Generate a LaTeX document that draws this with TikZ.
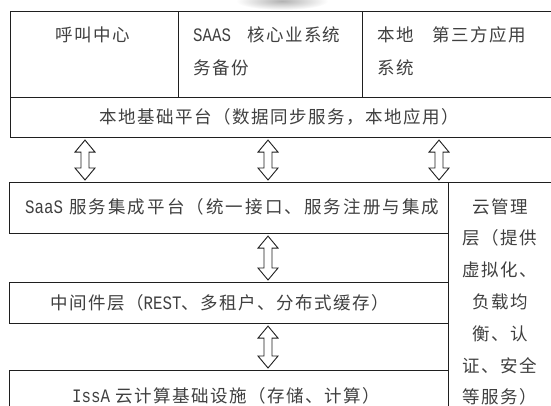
\documentclass[tikz,border=0pt]{standalone}
\usepackage{fontspec}
\newfontfamily\cjk{Noto Sans CJK SC}[LetterSpace=8.5]
\newfontfamily\cjkw{Noto Sans CJK SC}[LetterSpace=12]
\newfontfamily\lat{Liberation Mono}[FakeStretch=0.83]
\newcommand\la[1]{{\lat\fontsize{19}{19}\selectfont #1}}
\usetikzlibrary{calc}
\tikzset{
  boxline/.style={line width=1.1pt, draw=black!88},
  box/.style={boxline, inner sep=0pt, anchor=north west},
  txt/.style={font=\cjk\fontsize{17.5}{33}\selectfont, text=black!75, inner sep=0pt},
  dbl/.style={line width=0.9pt, draw=black!88, fill=white, line join=miter},
}
\newcommand\dbarrow[3]{%
  \draw[dbl] let \p1=(#1), \p2=(#2) in
    (#3pt,\y1-2pt) -- (#3pt+10pt,\y1-14pt) -- (#3pt+4pt,\y1-14pt) --
    (#3pt+4pt,\y2+14pt) -- (#3pt+10pt,\y2+14pt) -- (#3pt,\y2+2pt) --
    (#3pt-10pt,\y2+14pt) -- (#3pt-4pt,\y2+14pt) -- (#3pt-4pt,\y1-14pt) --
    (#3pt-10pt,\y1-14pt) -- cycle;}
\begin{document}
\begin{tikzpicture}[x=1pt,y=-1pt]
\useasboundingbox (0,0) rectangle (551,406);
\clip (0,0) rectangle (551,406);
\fill[white] (0,0) rectangle (551,406);
% faint smudge at top
\shade[inner color=black!30, outer color=white] (282,1) ellipse (46 and 9);

% top application row
\node[box, minimum width=168pt, minimum height=86pt] (c1) at (10,11) {};
\node[box, minimum width=184pt, minimum height=86pt] (c2) at (178,11) {};
\node[box, minimum width=220pt, minimum height=86pt] (c3) at (362,11) {};
\node[box, minimum width=580pt, minimum height=40pt] (base) at (10,97) {};

% lower layers
\node[box, minimum width=439pt, minimum height=51pt] (saas) at (9,182) {};
\node[box, minimum width=140pt, minimum height=260pt] (cloud) at (448,182) {};
\node[box, minimum width=439pt, minimum height=41pt] (mid) at (9,282) {};
\node[box, minimum width=439pt, minimum height=70pt] (iaas) at (9,370) {};

% texts
\node[txt] (t1) at (93,35) {呼叫中心};
\node[txt, anchor=west] (t2a) at (193,35) {\la{SAAS}\hspace{16pt}核心业系统};
\node[txt, anchor=west] (t2b) at (193,68) {务备份};
\node[txt, anchor=west] (t3a) at (377,35) {本地\hspace{19pt}第三方应用};
\node[txt, anchor=west] (t3b) at (377,68) {系统};
\node[txt] (tb) at (279,117) {本地基础平台（数据同步服务，本地应用）};
\node[txt, font=\cjkw\fontsize{17.5}{33}\selectfont, anchor=west] (ts) at (25,207)
    {\la{SaaS} 服务集成平台（统一接口、服务注册与集成};
\node[txt, anchor=west] (tm) at (50,303) {中间件层（\la{REST}、多租户、分布式缓存）};
\node[txt, anchor=west] (ti) at (72,396) {\la{IssA} 云计算基础设施（存储、计算）};
\node[txt, align=center, font=\cjk\fontsize{17.5}{31.8}\selectfont] (tc) at (500,302)
  {云管理\\层（提供\\虚拟化、\\负载均\\衡、认\\证、安全\\等服务）};

% connectors
\dbarrow{base.south}{saas.north}{85}
\dbarrow{base.south}{saas.north}{268}
\dbarrow{base.south}{saas.north}{439}
\dbarrow{saas.south}{mid.north}{268}
\dbarrow{mid.south}{iaas.north}{268}
\end{tikzpicture}
\end{document}
